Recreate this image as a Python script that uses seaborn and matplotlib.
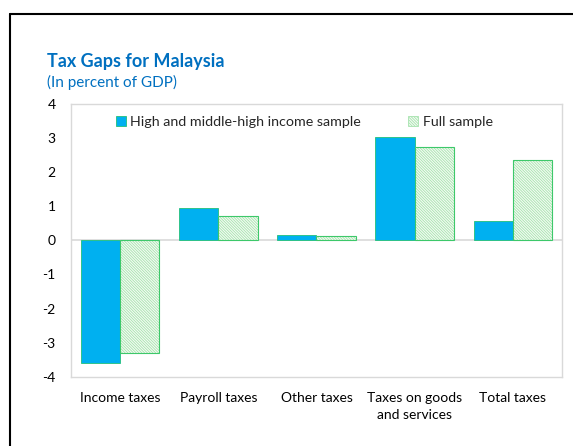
import pandas as pd
import seaborn as sns
import matplotlib.pyplot as plt
from matplotlib.patches import Patch, Rectangle
from matplotlib.lines import Line2D

categories = ["Income taxes", "Payroll taxes", "Other taxes",
              "Taxes on goods\nand services", "Total taxes"]
high_income = [-3.60, 0.94, 0.15, 3.03, 0.57]
full_sample = [-3.31, 0.70, 0.12, 2.72, 2.34]
series = ["High and middle-high income sample", "Full sample"]
yticks = [-4, -3, -2, -1, 0, 1, 2, 3, 4]

data = pd.DataFrame({
    "category": categories * 2,
    "value": high_income + full_sample,
    "sample": [series[0]] * 5 + [series[1]] * 5,
})

sns.set_style("white")
plt.rcParams["font.family"] = ["Lato", "DejaVu Sans"]
plt.rcParams["hatch.linewidth"] = 0.6

blue = "#00B0F0"
green_edge = "#3DC86A"
green_hatch = "#A6E3AE"
hatch = "\\" * 12

fig = plt.figure(figsize=(5.73, 4.46), dpi=100)
ax = fig.add_axes([0.1239, 0.1547, 0.8569, 0.6132])

sns.barplot(data=data, x="category", y="value", hue="sample",
            palette=[blue, "white"], saturation=1, width=0.8,
            legend=False, ax=ax)

# first 5 patches = high income, next 5 = full sample
for i, p in enumerate(ax.patches[:10]):
    if i < 5:
        p.set_edgecolor("#22C07A")
        p.set_linewidth(0.6)
    else:
        p.set_facecolor("#F4FBF4")
        p.set_edgecolor(green_hatch)
        p.set_hatch(hatch)
        p.set_linewidth(0)
        ax.add_patch(Rectangle(p.get_xy(), p.get_width(), p.get_height(),
                               fill=False, edgecolor=green_edge, lw=0.8))

ax.axhline(0, color="#D9D9D9", lw=1.2, zorder=0.5)
ax.set_ylim(-4, 4)
ax.set_yticks(yticks)
ax.set_yticklabels([str(t) for t in yticks])
ax.set_xlabel("")
ax.set_ylabel("")
ax.tick_params(axis="both", length=0, labelsize=10, colors="black")
ax.tick_params(axis="y", pad=11)
ax.tick_params(axis="x", pad=11)
for lbl in ax.get_xticklabels():
    lbl.set_linespacing(1.45)
for s in ax.spines.values():
    s.set_color("#D9D9D9")
    s.set_linewidth(1)

handles = [Patch(facecolor=blue, edgecolor="#22C07A", lw=0.6),
           Patch(facecolor="#F4FBF4", edgecolor=green_hatch, hatch=hatch, lw=0.6)]
leg = ax.legend(handles, series, loc="upper center", bbox_to_anchor=(0.475, 1.0),
                ncol=2, frameon=False, fontsize=10.3, handlelength=0.7,
                handleheight=0.7, handletextpad=0.3, columnspacing=3.3)

fig.text(0.082, 0.861, "Tax Gaps for Malaysia", fontsize=13, fontweight="bold",
         color="#0070C0", va="center")
fig.text(0.082, 0.814, "(In percent of GDP)", fontsize=11,
         color="#0070C0", va="center")

# outer frame (left and top edges)
fig.add_artist(Line2D([0.0183, 0.0183], [0.0, 0.9697], transform=fig.transFigure,
                      color="black", lw=1.5))
fig.add_artist(Line2D([0.0183, 1.0], [0.9697, 0.9697], transform=fig.transFigure,
                      color="black", lw=1.5))

plt.savefig("out.png", dpi=100)
